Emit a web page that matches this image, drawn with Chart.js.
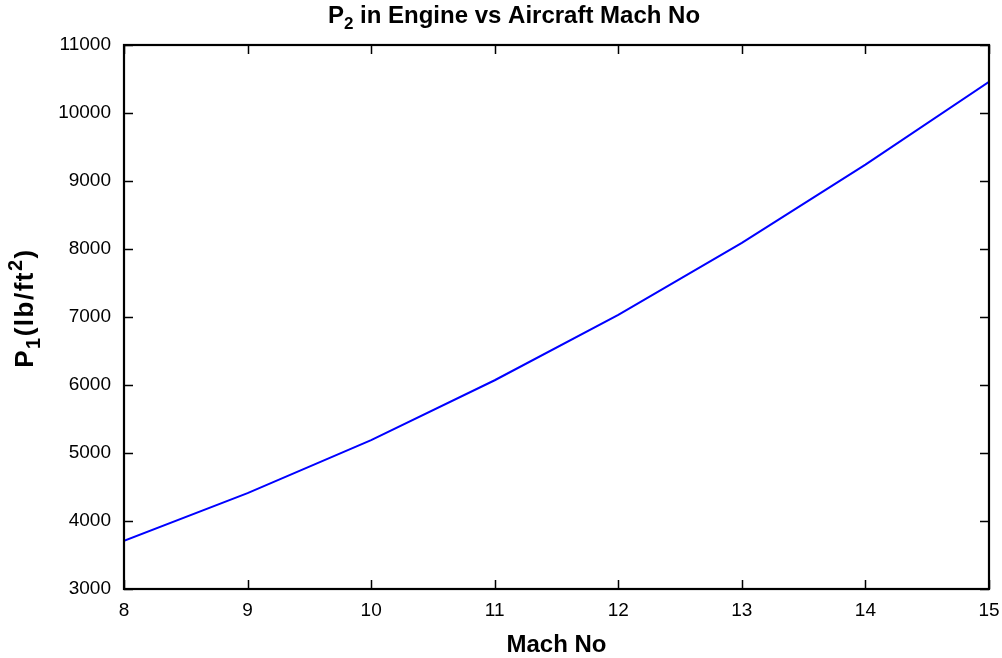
<!DOCTYPE html>
<html>
<head>
<meta charset="utf-8">
<script src="https://cdn.jsdelivr.net/npm/chart.js@4/dist/chart.umd.min.js"></script>
<style>
  html, body { margin: 0; padding: 0; background: #fff; }
  #wrap { width: 1002px; height: 658px; }
</style>
</head>
<body>
<div id="wrap"><canvas id="grafico" width="1002" height="658"></canvas></div>
<script>
// dados
const machNo = [8, 9, 10, 11, 12, 13, 14, 15];
const pressao = [3710, 4410, 5190, 6070, 7030, 8090, 9240, 10460];
const xTicks = [8, 9, 10, 11, 12, 13, 14, 15];
const yTicks = [3000, 4000, 5000, 6000, 7000, 8000, 9000, 10000, 11000];

const fonte = "'Liberation Sans', Arial, Helvetica, sans-serif";

// escreve texto com subscrito/sobrescrito, centrado em (cx, cy)
function textoRico(ctx, partes, cx, cy, rot, tam, tamPeq, espaco) {
    const grande = 'bold ' + tam + 'px ' + fonte;
    const pequeno = 'bold ' + tamPeq + 'px ' + fonte;
    ctx.save();
    ctx.letterSpacing = (espaco || 0) + 'px';
    let total = 0;
    partes.forEach(p => {
        ctx.font = p.d ? pequeno : grande;
        p.w = ctx.measureText(p.t).width;
        total += p.w;
    });
    ctx.translate(cx, cy);
    if (rot) ctx.rotate(rot);
    ctx.textAlign = 'left';
    ctx.textBaseline = 'alphabetic';
    ctx.fillStyle = '#000';
    let x = -total / 2;
    partes.forEach(p => {
        ctx.font = p.d ? pequeno : grande;
        ctx.fillText(p.t, x, 8 + (p.d || 0));
        x += p.w;
    });
    ctx.restore();
}

// ticks para dentro + moldura (estilo gnuplot)
const molduraPlugin = {
    id: 'moldura',
    afterDraw(chart) {
        const ctx = chart.ctx;
        const a = chart.chartArea;
        const x = chart.scales.x, y = chart.scales.y;
        const len = 9;
        ctx.save();
        ctx.strokeStyle = '#000';
        ctx.lineWidth = 1.5;
        yTicks.forEach(v => {
            const py = Math.round(y.getPixelForValue(v)) + 0.5;
            ctx.beginPath();
            ctx.moveTo(a.left, py); ctx.lineTo(a.left + len, py);
            ctx.moveTo(a.right, py); ctx.lineTo(a.right - len, py);
            ctx.stroke();
        });
        xTicks.forEach(v => {
            const px = Math.round(x.getPixelForValue(v)) + 0.5;
            ctx.beginPath();
            ctx.moveTo(px, a.bottom); ctx.lineTo(px, a.bottom - len);
            ctx.moveTo(px, a.top); ctx.lineTo(px, a.top + len);
            ctx.stroke();
        });
        ctx.lineWidth = 2.2;
        ctx.strokeRect(a.left, a.top, a.right - a.left, a.bottom - a.top);
        ctx.restore();
        // titulo e rotulo do eixo y
        textoRico(ctx, [{ t: 'P' }, { t: '2', d: 6 }, { t: ' in Engine vs Aircraft Mach No' }], 514, 15, 0, 24, 17, 0);
        textoRico(ctx, [{ t: 'P' }, { t: '1', d: 7 }, { t: '(lb/ft' }, { t: '2', d: -11 }, { t: ')' }], 25, 308, -Math.PI / 2, 26, 20, 1.5);
    }
};

const ctx = document.getElementById('grafico').getContext('2d');
const myChart = new Chart(ctx, {
    type: 'line',
    data: {
        datasets: [{
            data: machNo.map((m, i) => ({ x: m, y: pressao[i] })),
            borderColor: '#0000ff',
            borderWidth: 2,
            pointRadius: 0,
            tension: 0,
            fill: false
        }]
    },
    options: {
        responsive: false,
        animation: false,
        layout: { padding: { top: 45, right: 13, left: 0, bottom: 0 } },
        plugins: { legend: { display: false }, tooltip: { enabled: false }, title: { display: false } },
        scales: {
            x: {
                type: 'linear',
                min: 8, max: 15,
                afterBuildTicks: s => { s.ticks = xTicks.map(v => ({ value: v })); },
                afterFit: s => { s.height = 69; s.paddingRight = 0; s.paddingLeft = 0; },
                grid: { display: false, drawTicks: false },
                border: { display: false },
                ticks: { color: '#000', padding: 10, font: { size: 19, family: fonte },
                    callback: v => String(v) },
                title: { display: true, text: 'Mach No', color: '#000', padding: { top: 7, bottom: -2 },
                    font: { size: 24, weight: 'bold', family: fonte } }
            },
            y: {
                min: 3000, max: 11000,
                afterBuildTicks: s => { s.ticks = yTicks.map(v => ({ value: v })); },
                afterFit: s => { s.width = 124; s.paddingTop = 0; s.paddingBottom = 0; },
                grid: { display: false, drawTicks: false },
                border: { display: false },
                ticks: { color: '#000', padding: 13, font: { size: 19, family: fonte },
                    callback: v => String(v) },
                title: { display: false }
            }
        }
    },
    plugins: [molduraPlugin]
});
</script>
</body>
</html>
